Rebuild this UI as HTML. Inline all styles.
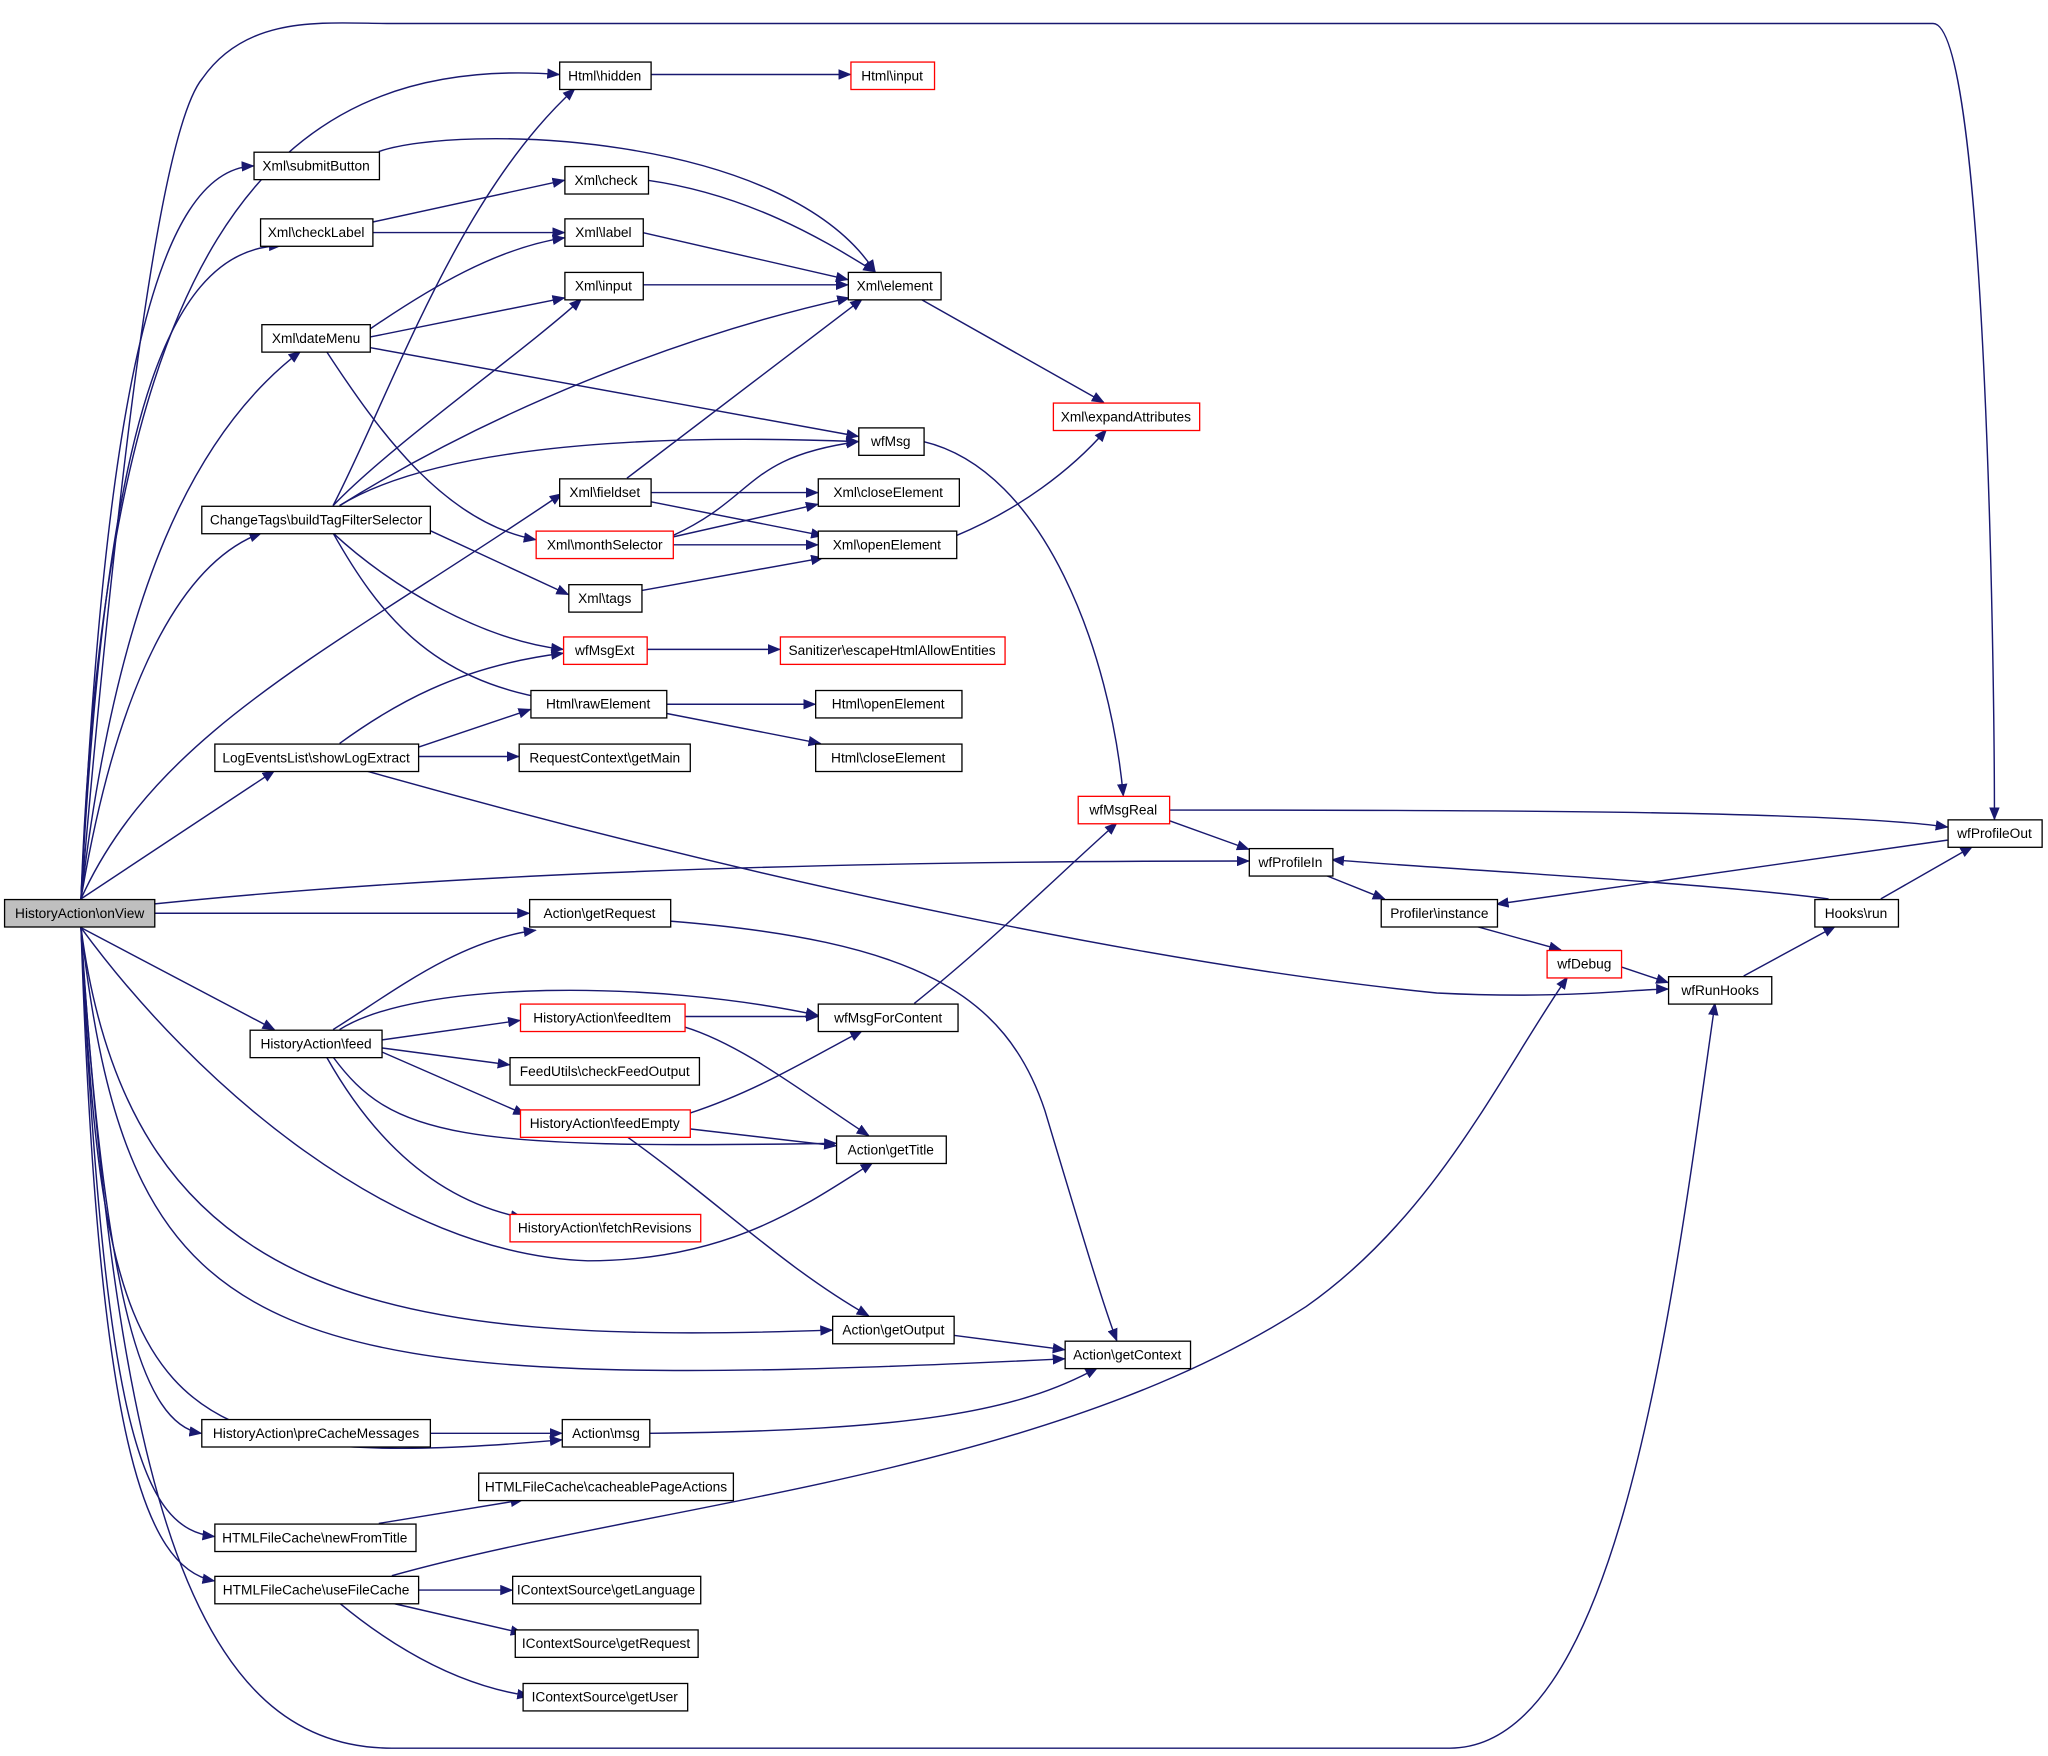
<!DOCTYPE html>
<html><head><meta charset="utf-8"><style>
html,body{margin:0;padding:0;background:#fff;}
svg{display:block}
text{font-family:"Liberation Sans",sans-serif;font-size:10.5px;fill:#000;text-anchor:middle;dominant-baseline:central}
.e{fill:none;stroke:#191970;stroke-width:1.1}
.n{fill:#fff;stroke:#000;stroke-width:1}
.r{fill:#fff;stroke:#ff0000;stroke-width:1}
</style></head><body>
<svg width="2048" height="1756" viewBox="0 0 1568 1344" preserveAspectRatio="none" xmlns="http://www.w3.org/2000/svg">
<defs><marker id="a" markerWidth="10" markerHeight="8" refX="9" refY="4" orient="auto" markerUnits="userSpaceOnUse"><path d="M0,0 L10,4 L0,8 z" fill="#191970"/></marker></defs>
<g class="e" marker-end="url(#a)">
<path d="M62,688 C80,200 200,40 428,57"/>
<path d="M62,688 C100,250 130,90 155,60 C190,10 250,18 300,18 L1480,18 C1520,18 1527,500 1527,627"/>
<path d="M62,688 C80,300 120,130 194,127"/>
<path d="M62,688 C80,350 120,190 215,188"/>
<path d="M62,688 C90,450 150,330 230,269"/>
<path d="M62,688 C90,520 140,430 200,408"/>
<path d="M62,688 C120,560 250,500 430,378"/>
<path d="M62,688 L210,590"/>
<path d="M62,698 C300,670 600,659 956,659"/>
<path d="M118,699 L405,699"/>
<path d="M62,710 L210,788"/>
<path d="M62,710 C150,830 300,960 450,965 C560,965 620,920 668,890"/>
<path d="M62,710 C100,1000 300,1030 637,1018"/>
<path d="M62,710 C100,1040 200,1070 815,1040"/>
<path d="M62,710 C80,1000 110,1090 154,1097"/>
<path d="M62,710 C80,1080 110,1130 430,1102"/>
<path d="M62,710 C80,1100 110,1170 164,1176"/>
<path d="M62,710 C75,1100 110,1200 164,1210"/>
<path d="M62,710 C90,1150 150,1338 300,1338 L1110,1338 C1240,1338 1280,1000 1313,768"/>
<path d="M498,57 L651,57"/>
<path d="M290,116 C350,95 600,100 670,208"/>
<path d="M285,170 L432,138"/>
<path d="M285,178 L432,178"/>
<path d="M496,138 C580,150 640,190 670,208"/>
<path d="M492,178 L649,214"/>
<path d="M492,218 L649,218"/>
<path d="M283,252 C330,220 380,190 432,182"/>
<path d="M283,258 L432,228"/>
<path d="M283,266 L657,334"/>
<path d="M250,269 C290,330 340,400 410,413"/>
<path d="M705,229 L845,308"/>
<path d="M255,387 C300,300 350,150 440,68"/>
<path d="M255,387 C300,340 400,270 445,229"/>
<path d="M260,387 C400,300 550,250 650,228"/>
<path d="M260,387 C320,350 450,330 657,338"/>
<path d="M329,406 L435,455"/>
<path d="M255,408 C300,450 370,490 431,497"/>
<path d="M255,408 C290,470 330,520 420,535"/>
<path d="M480,366 L660,229"/>
<path d="M498,377 L626,377"/>
<path d="M498,384 L630,410"/>
<path d="M515,410 C580,380 570,350 657,338"/>
<path d="M515,411 L626,386"/>
<path d="M515,417 L626,417"/>
<path d="M491,452 L630,427"/>
<path d="M732,410 C780,390 820,360 847,329"/>
<path d="M707,338 C800,360 850,500 860,609"/>
<path d="M495,497 L597,497"/>
<path d="M510,539 L624,539"/>
<path d="M510,546 L628,569"/>
<path d="M260,569 C300,540 350,510 431,500"/>
<path d="M320,572 L406,543"/>
<path d="M320,579 L397,579"/>
<path d="M280,590 C600,680 900,740 1100,760 C1200,765 1250,757 1277,757"/>
<path d="M895,620 C1100,620 1400,620 1491,633"/>
<path d="M895,628 L956,650"/>
<path d="M1015,670 L1060,688"/>
<path d="M1491,643 L1146,692"/>
<path d="M1400,688 C1300,675 1100,665 1020,658"/>
<path d="M1440,688 L1510,648"/>
<path d="M1130,709 L1195,727"/>
<path d="M1241,740 L1277,752"/>
<path d="M1335,747 L1405,709"/>
<path d="M513,705 C700,720 770,760 800,850 C830,950 845,1000 855,1026"/>
<path d="M255,788 C300,760 350,720 410,712"/>
<path d="M260,788 C320,750 500,750 626,777"/>
<path d="M292,796 L398,781"/>
<path d="M292,802 L390,815"/>
<path d="M292,805 L402,853"/>
<path d="M255,809 C300,870 350,880 640,875"/>
<path d="M250,809 C290,880 340,920 400,932"/>
<path d="M524,778 L626,778"/>
<path d="M524,786 C570,800 620,840 665,869"/>
<path d="M528,852 C580,835 620,810 660,789"/>
<path d="M528,864 L640,877"/>
<path d="M480,870 C550,920 600,970 665,1007"/>
<path d="M700,768 C760,720 810,670 855,630"/>
<path d="M730,1022 L815,1033"/>
<path d="M329,1097 L430,1097"/>
<path d="M497,1097 C700,1095 780,1080 840,1047"/>
<path d="M290,1166 L400,1148"/>
<path d="M300,1206 C500,1150 800,1130 1000,1000 C1100,930 1150,820 1200,748"/>
<path d="M320,1217 L392,1217"/>
<path d="M300,1227 L400,1250"/>
<path d="M260,1227 C300,1260 350,1290 405,1298"/>
</g>
<g>
<rect x="3.5" y="688.5" width="115" height="21" fill="#bfbfbf" stroke="#000"/><text x="61" y="699">HistoryAction\onView</text>
<rect class="n" x="428.5" y="47.5" width="70" height="21"/><text x="463" y="58">Html\hidden</text>
<rect class="r" x="651.5" y="47.5" width="64" height="21"/><text x="683" y="58">Html\input</text>
<rect class="n" x="194.5" y="116.5" width="96" height="21"/><text x="242" y="127">Xml\submitButton</text>
<rect class="n" x="432.5" y="127.5" width="64" height="21"/><text x="464" y="138">Xml\check</text>
<rect class="n" x="199.5" y="167.5" width="86" height="21"/><text x="242" y="178">Xml\checkLabel</text>
<rect class="n" x="432.5" y="167.5" width="60" height="21"/><text x="462" y="178">Xml\label</text>
<rect class="n" x="649.5" y="208.5" width="71" height="21"/><text x="685" y="219">Xml\element</text>
<rect class="n" x="432.5" y="208.5" width="60" height="21"/><text x="462" y="219">Xml\input</text>
<rect class="n" x="200.5" y="248.5" width="83" height="21"/><text x="242" y="259">Xml\dateMenu</text>
<rect class="r" x="806.5" y="308.5" width="112" height="21"/><text x="862" y="319">Xml\expandAttributes</text>
<rect class="n" x="657.5" y="327.5" width="50" height="21"/><text x="682" y="338">wfMsg</text>
<rect class="n" x="428.5" y="366.5" width="70" height="21"/><text x="463" y="377">Xml\fieldset</text>
<rect class="n" x="626.5" y="366.5" width="108" height="21"/><text x="680" y="377">Xml\closeElement</text>
<rect class="n" x="154.5" y="387.5" width="175" height="21"/><text x="242" y="398">ChangeTags\buildTagFilterSelector</text>
<rect class="r" x="410.5" y="406.5" width="105" height="21"/><text x="463" y="417">Xml\monthSelector</text>
<rect class="n" x="626.5" y="406.5" width="106" height="21"/><text x="679" y="417">Xml\openElement</text>
<rect class="n" x="435.5" y="447.5" width="56" height="21"/><text x="463" y="458">Xml\tags</text>
<rect class="r" x="431.5" y="487.5" width="64" height="21"/><text x="463" y="498">wfMsgExt</text>
<rect class="r" x="597.5" y="487.5" width="172" height="21"/><text x="683" y="498">Sanitizer\escapeHtmlAllowEntities</text>
<rect class="n" x="406.5" y="528.5" width="104" height="21"/><text x="458" y="539">Html\rawElement</text>
<rect class="n" x="624.5" y="528.5" width="112" height="21"/><text x="680" y="539">Html\openElement</text>
<rect class="n" x="164.5" y="569.5" width="156" height="21"/><text x="242" y="580">LogEventsList\showLogExtract</text>
<rect class="n" x="397.5" y="569.5" width="131" height="21"/><text x="463" y="580">RequestContext\getMain</text>
<rect class="n" x="624.5" y="569.5" width="112" height="21"/><text x="680" y="580">Html\closeElement</text>
<rect class="r" x="825.5" y="609.5" width="70" height="21"/><text x="860" y="620">wfMsgReal</text>
<rect class="n" x="1491.5" y="627.5" width="72" height="21"/><text x="1527" y="638">wfProfileOut</text>
<rect class="n" x="956.5" y="649.5" width="64" height="21"/><text x="988" y="660">wfProfileIn</text>
<rect class="n" x="1057.5" y="688.5" width="89" height="21"/><text x="1102" y="699">Profiler\instance</text>
<rect class="n" x="1389.5" y="688.5" width="64" height="21"/><text x="1421" y="699">Hooks\run</text>
<rect class="n" x="405.5" y="688.5" width="108" height="21"/><text x="459" y="699">Action\getRequest</text>
<rect class="r" x="1184.5" y="727.5" width="57" height="21"/><text x="1213" y="738">wfDebug</text>
<rect class="n" x="1277.5" y="747.5" width="79" height="21"/><text x="1317" y="758">wfRunHooks</text>
<rect class="n" x="191.5" y="788.5" width="101" height="21"/><text x="242" y="799">HistoryAction\feed</text>
<rect class="r" x="398.5" y="768.5" width="126" height="21"/><text x="461" y="779">HistoryAction\feedItem</text>
<rect class="n" x="626.5" y="768.5" width="107" height="21"/><text x="680" y="779">wfMsgForContent</text>
<rect class="n" x="390.5" y="809.5" width="145" height="21"/><text x="463" y="820">FeedUtils\checkFeedOutput</text>
<rect class="r" x="398.5" y="849.5" width="130" height="21"/><text x="463" y="860">HistoryAction\feedEmpty</text>
<rect class="n" x="640.5" y="869.5" width="84" height="21"/><text x="682" y="880">Action\getTitle</text>
<rect class="r" x="390.5" y="929.5" width="146" height="21"/><text x="463" y="940">HistoryAction\fetchRevisions</text>
<rect class="n" x="637.5" y="1007.5" width="93" height="21"/><text x="684" y="1018">Action\getOutput</text>
<rect class="n" x="815.5" y="1026.5" width="96" height="21"/><text x="863" y="1037">Action\getContext</text>
<rect class="n" x="154.5" y="1086.5" width="175" height="21"/><text x="242" y="1097">HistoryAction\preCacheMessages</text>
<rect class="n" x="430.5" y="1086.5" width="67" height="21"/><text x="464" y="1097">Action\msg</text>
<rect class="n" x="366.5" y="1127.5" width="195" height="21"/><text x="464" y="1138">HTMLFileCache\cacheablePageActions</text>
<rect class="n" x="164.5" y="1166.5" width="154" height="21"/><text x="241" y="1177">HTMLFileCache\newFromTitle</text>
<rect class="n" x="164.5" y="1206.5" width="156" height="21"/><text x="242" y="1217">HTMLFileCache\useFileCache</text>
<rect class="n" x="392.5" y="1206.5" width="144" height="21"/><text x="464" y="1217">IContextSource\getLanguage</text>
<rect class="n" x="394.5" y="1247.5" width="140" height="21"/><text x="464" y="1258">IContextSource\getRequest</text>
<rect class="n" x="400.5" y="1288.5" width="126" height="21"/><text x="463" y="1299">IContextSource\getUser</text>
</g>
</svg>
</body></html>
